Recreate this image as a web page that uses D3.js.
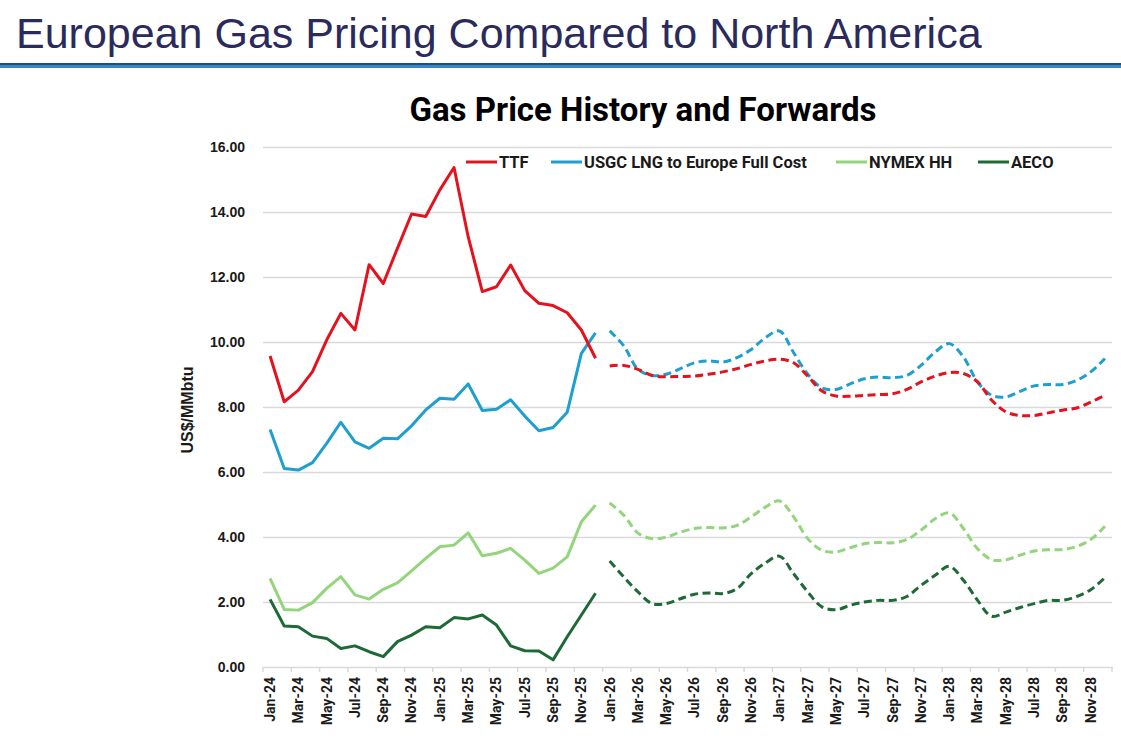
<!DOCTYPE html>
<html>
<head>
<meta charset="utf-8">
<script src="https://cdn.jsdelivr.net/npm/d3@7"></script>
<style>
  html, body { margin: 0; padding: 0; background: #fff; }
  svg { display: block; }
</style>
</head>
<body>
<div id="chart"></div>
<script>
const months = [
  "Jan-24","Feb-24","Mar-24","Apr-24","May-24","Jun-24","Jul-24","Aug-24","Sep-24","Oct-24","Nov-24","Dec-24",
  "Jan-25","Feb-25","Mar-25","Apr-25","May-25","Jun-25","Jul-25","Aug-25","Sep-25","Oct-25","Nov-25","Dec-25",
  "Jan-26","Feb-26","Mar-26","Apr-26","May-26","Jun-26","Jul-26","Aug-26","Sep-26","Oct-26","Nov-26","Dec-26",
  "Jan-27","Feb-27","Mar-27","Apr-27","May-27","Jun-27","Jul-27","Aug-27","Sep-27","Oct-27","Nov-27","Dec-27",
  "Jan-28","Feb-28","Mar-28","Apr-28","May-28","Jun-28","Jul-28","Aug-28","Sep-28","Oct-28","Nov-28","Dec-28"
];
const histMonths = months.slice(0, 24);
const fwdMonths = months.slice(24);

// history (solid)
const ttfHist   = [9.57, 8.16, 8.52, 9.09, 10.06, 10.88, 10.37, 12.38, 11.80, 12.88, 13.94, 13.86,
                   14.68, 15.37, 13.24, 11.55, 11.70, 12.37, 11.58, 11.19, 11.12, 10.90, 10.37, 9.50];
const usgcHist  = [7.31, 6.11, 6.06, 6.29, 6.88, 7.53, 6.93, 6.73, 7.04, 7.02, 7.42, 7.91,
                   8.27, 8.24, 8.71, 7.89, 7.93, 8.22, 7.72, 7.27, 7.37, 7.84, 9.65, 10.28];
const nymexHist = [2.73, 1.77, 1.75, 1.98, 2.42, 2.78, 2.22, 2.09, 2.39, 2.59, 2.96, 3.34,
                   3.70, 3.75, 4.13, 3.42, 3.50, 3.65, 3.29, 2.88, 3.04, 3.39, 4.47, 4.98];
const aecoHist  = [2.08, 1.26, 1.24, 0.95, 0.88, 0.57, 0.65, 0.47, 0.32, 0.78, 0.98, 1.24,
                   1.21, 1.52, 1.48, 1.60, 1.29, 0.65, 0.50, 0.49, 0.22, 0.93, 1.60, 2.27];

// forwards (dashed)
const ttfFwd   = [9.26, 9.28, 9.16, 8.97, 8.93, 8.94, 8.95, 9.01, 9.08, 9.18, 9.31, 9.42,
                  9.47, 9.36, 8.95, 8.49, 8.34, 8.33, 8.36, 8.38, 8.41, 8.54, 8.77, 8.95,
                  9.06, 9.03, 8.77, 8.21, 7.85, 7.74, 7.74, 7.82, 7.90, 7.97, 8.15, 8.36];
const usgcFwd  = [10.34, 9.88, 9.16, 8.97, 9.01, 9.18, 9.36, 9.42, 9.38, 9.52, 9.77, 10.13,
                  10.34, 9.67, 9.01, 8.59, 8.54, 8.71, 8.87, 8.92, 8.90, 8.97, 9.28, 9.69,
                  9.95, 9.54, 8.77, 8.36, 8.31, 8.48, 8.65, 8.69, 8.69, 8.82, 9.08, 9.49];
const nymexFwd = [5.05, 4.67, 4.12, 3.95, 4.00, 4.15, 4.26, 4.29, 4.28, 4.36, 4.62, 4.92,
                  5.11, 4.62, 3.95, 3.59, 3.54, 3.67, 3.79, 3.83, 3.82, 3.92, 4.21, 4.56,
                  4.74, 4.26, 3.64, 3.30, 3.30, 3.44, 3.57, 3.61, 3.61, 3.71, 3.92, 4.33];
const aecoFwd  = [3.26, 2.77, 2.31, 1.95, 1.95, 2.10, 2.24, 2.28, 2.26, 2.41, 2.87, 3.20,
                  3.41, 2.87, 2.31, 1.85, 1.76, 1.90, 2.00, 2.05, 2.05, 2.17, 2.51, 2.82,
                  3.10, 2.67, 2.05, 1.56, 1.69, 1.83, 1.95, 2.05, 2.05, 2.17, 2.38, 2.75];

const seriesNames = ["TTF", "USGC LNG to Europe Full Cost", "NYMEX HH", "AECO"];
const seriesColors = ["#e3121e", "#1f9fcf", "#93d47d", "#1e6a37"];
const yTicks = [0, 2, 4, 6, 8, 10, 12, 14, 16];

const W = 1121, H = 741;
const plot = { left: 263, right: 1112, top: 147, bottom: 667 };

const svg = d3.select("#chart").append("svg")
  .attr("width", W)
  .attr("height", H)
  .style("font-family", "'Liberation Sans', Arial, sans-serif");

svg.append("rect").attr("width", W).attr("height", H).attr("fill", "#fff");

// slide header
svg.append("text")
  .attr("x", 16)
  .attr("y", 48)
  .attr("fill", "#2b2a5c")
  .style("font-size", "43px")
  .text("European Gas Pricing Compared to North America");

svg.append("rect").attr("x", 0).attr("y", 63).attr("width", W).attr("height", 2).attr("fill", "#1f4e79");
svg.append("rect").attr("x", 0).attr("y", 65).attr("width", W).attr("height", 3).attr("fill", "#3a86c4");

// chart title
svg.append("text")
  .attr("x", 643)
  .attr("y", 121)
  .attr("text-anchor", "middle")
  .style("font-family", "Roboto, 'Liberation Sans', sans-serif")
  .style("font-weight", "bold")
  .style("font-size", "33px")
  .attr("fill", "#000")
  .text("Gas Price History and Forwards");

const x = d3.scaleBand()
  .domain(months)
  .range([plot.left, plot.right])
  .padding(0);

const cx = m => x(m) + x.bandwidth() / 2;

const y = d3.scaleLinear()
  .domain([0, 16])
  .range([plot.bottom, plot.top]);

// gridlines
svg.append("g")
  .attr("transform", `translate(${plot.left},0)`)
  .call(d3.axisLeft(y).tickValues(yTicks.filter(d => d > 0)).tickSize(-(plot.right - plot.left)).tickFormat(""))
  .call(g => g.select(".domain").remove())
  .selectAll("line")
  .attr("stroke", "#d9d9d9")
  .attr("stroke-width", 1.5);

// y axis labels
svg.append("g")
  .attr("transform", `translate(${plot.left},0)`)
  .call(d3.axisLeft(y).tickValues(yTicks).tickSize(0).tickPadding(18).tickFormat(d3.format(".2f")))
  .call(g => g.select(".domain").remove())
  .selectAll("text")
  .style("font-family", "'Liberation Sans', Arial, sans-serif")
  .style("font-size", "14px")
  .style("font-weight", "bold")
  .attr("fill", "#1a1a1a");

svg.append("text")
  .attr("transform", `translate(193,${(plot.top + plot.bottom) / 2 + 3}) rotate(-90)`)
  .attr("text-anchor", "middle")
  .style("font-size", "16px")
  .style("font-weight", "bold")
  .attr("fill", "#1a1a1a")
  .text("US$/MMbtu");

// x axis
const labelMonths = months.filter((m, i) => i % 2 === 0);
const xAxis = svg.append("g")
  .attr("transform", `translate(0,${plot.bottom})`)
  .call(d3.axisBottom(x).tickValues(labelMonths).tickSize(0))
  .call(g => g.select(".domain").attr("stroke", "#d9d9d9").attr("stroke-width", 1.5));

xAxis.selectAll("text")
  .attr("transform", "rotate(-90)")
  .attr("x", -10)
  .attr("y", 0)
  .attr("dy", "0.35em")
  .style("text-anchor", "end")
  .style("font-family", "'Liberation Sans Narrow', Roboto, sans-serif")
  .style("font-size", "14px")
  .style("font-weight", "bold")
  .attr("fill", "#1a1a1a");

xAxis.selectAll(".boundary")
  .data(labelMonths.map(m => x(m)).concat([plot.right]))
  .enter()
  .append("line")
  .attr("class", "boundary")
  .attr("x1", d => d)
  .attr("x2", d => d)
  .attr("y1", 0)
  .attr("y2", 5)
  .attr("stroke", "#d9d9d9")
  .attr("stroke-width", 1.5);

// lines
const hist = [ttfHist, usgcHist, nymexHist, aecoHist];
const fwd = [ttfFwd, usgcFwd, nymexFwd, aecoFwd];

const histLine = d3.line()
  .x((d, i) => cx(histMonths[i]))
  .y(d => y(d));

const fwdLine = d3.line()
  .x((d, i) => cx(fwdMonths[i]))
  .y(d => y(d))
  .curve(d3.curveCatmullRom.alpha(0.5));

const drawOrder = [3, 2, 1, 0];
drawOrder.forEach(s => {
  svg.append("path")
    .datum(fwd[s])
    .attr("d", fwdLine)
    .attr("fill", "none")
    .attr("stroke", seriesColors[s])
    .attr("stroke-width", 3)
    .attr("stroke-dasharray", "8,4.5");
});
drawOrder.forEach(s => {
  svg.append("path")
    .datum(hist[s])
    .attr("d", histLine)
    .attr("fill", "none")
    .attr("stroke", seriesColors[s])
    .attr("stroke-width", 3)
    .attr("stroke-linejoin", "round");
});

// legend
const legendX = [466, 551, 836, 978];
const legend = svg.append("g").attr("transform", "translate(0,162)");
seriesNames.forEach((name, i) => {
  legend.append("line")
    .attr("x1", legendX[i])
    .attr("x2", legendX[i] + 31)
    .attr("y1", 0)
    .attr("y2", 0)
    .attr("stroke", seriesColors[i])
    .attr("stroke-width", 3);
  legend.append("text")
    .attr("x", legendX[i] + 33)
    .attr("y", 0)
    .attr("dy", "0.35em")
    .style("font-family", "Roboto, 'Liberation Sans', sans-serif")
    .style("font-size", "16.5px")
    .style("font-weight", "bold")
    .attr("fill", "#1a1a1a")
    .text(name);
});
</script>
</body>
</html>
